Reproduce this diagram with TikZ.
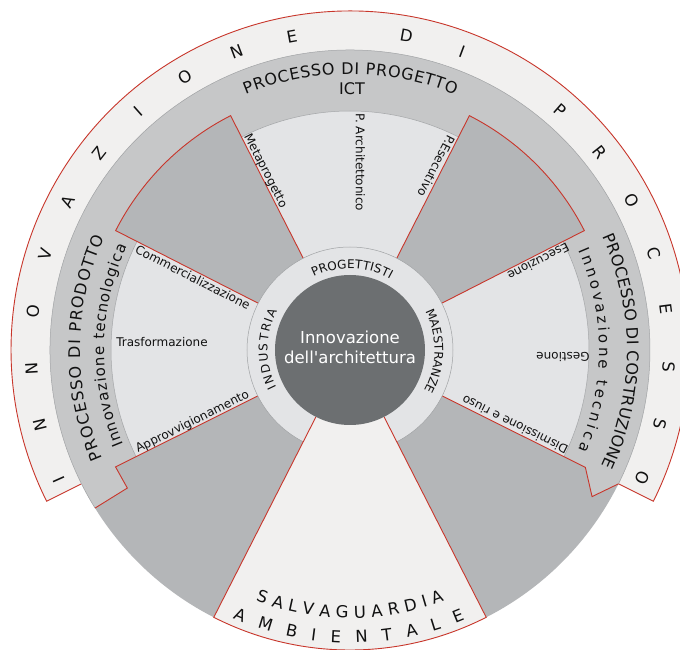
\documentclass[tikz,border=0pt]{standalone}
\usepackage{fontspec}
\setmainfont{DejaVu Sans}
\usetikzlibrary{decorations.text,calc}
\definecolor{ringcol}{HTML}{F1F0EF}
\definecolor{bandcol}{HTML}{C6C7C8}
\definecolor{darkcol}{HTML}{B4B6B8}
\definecolor{lightcol}{HTML}{E3E4E6}
\definecolor{centercol}{HTML}{6C6F71}
\definecolor{redcol}{HTML}{C8362B}
\definecolor{edgecol}{HTML}{A0A2A4}
\definecolor{txtcol}{HTML}{111111}
\newcommand\myBandFont{\fontsize{16}{19}\selectfont\color{txtcol}}
\newcommand\mySubFont{\fontsize{15}{18}\selectfont\color{txtcol}}
\newcommand\myInnerFont{\fontsize{12}{14}\selectfont\color{txtcol}}
\newcommand\myBottomFont{\fontsize{16.5}{19}\selectfont\color{txtcol}}
\begin{document}
\begin{tikzpicture}[x=1pt,y=1pt,
  redline/.style={draw=redcol, line width=0.9pt, line join=miter},
  thinedge/.style={draw=edgecol, line width=0.5pt},
  lbl/.style={font=\fontsize{12}{14}\selectfont, text=txtcol, inner sep=0pt, anchor=base},
  ringletter/.style={font=\fontsize{16.5}{18}\selectfont, text=txtcol, inner sep=0pt},
  arctext/.style={decorate, decoration={text along path, text align=fit to path, text={#1}}}
]
\clip (-350,-300) rectangle (330,350);
\fill[white] (-350,-300) rectangle (330,350);

% outer ring
\fill[ringcol] (-26.5:300pt) -- (-26.5:339pt) arc[start angle=-26.5, end angle=206.5, radius=339pt] -- (206.5:300pt) arc[start angle=206.5, end angle=-26.5, radius=300pt] -- cycle;
\draw[redline] (-26.5:300pt) -- (-26.5:339pt) arc[start angle=-26.5, end angle=206.5, radius=339pt] -- (206.5:300pt);

% band
\fill[bandcol] (211.8:300pt) arc[start angle=211.8, end angle=-26.5, radius=300pt] -- (-31.2:283pt) -- (-26.5:263pt) -- (-26.5:239pt) arc[start angle=-26.5, end angle=206.5, radius=239pt] -- (206.5:262pt) -- (211.8:262pt) -- cycle;
\draw[thinedge] (211.8:300pt) arc[start angle=211.8, end angle=-26.5, radius=300pt];

% light sectors
\fill[lightcol] (0,0) -- (63:239pt) arc[start angle=63, end angle=117, radius=239pt] -- cycle;
\fill[lightcol] (0,0) -- (153:239pt) arc[start angle=153, end angle=206.5, radius=239pt] -- cycle;
\fill[lightcol] (0,0) -- (-26.5:239pt) arc[start angle=-26.5, end angle=27, radius=239pt] -- cycle;
\draw[thinedge] (63:239pt) arc[start angle=63, end angle=117, radius=239pt];
\draw[thinedge] (153:239pt) arc[start angle=153, end angle=206.5, radius=239pt];
\draw[thinedge] (-26.5:239pt) arc[start angle=-26.5, end angle=27, radius=239pt];

% dark sectors
\filldraw[fill=darkcol, redline] (117:100pt) -- (117:263pt) arc[start angle=117, end angle=153, radius=263pt] -- (153:100pt);
\filldraw[fill=darkcol, redline] (27:100pt) -- (27:263pt) arc[start angle=27, end angle=63, radius=263pt] -- (63:100pt);
\fill[darkcol] (206.5:100pt) -- (206.5:262pt) -- (211.8:262pt) -- (211.8:300pt) arc[start angle=211.8, end angle=243, radius=300pt] -- (243:100pt) -- cycle;
\draw[redline] (206.5:100pt) -- (206.5:262pt) -- (211.8:262pt) -- (211.8:300pt);
\fill[darkcol] (297:100pt) -- (297:300pt) arc[start angle=297, end angle=333.5, radius=300pt] -- (328.8:283pt) -- (333.5:263pt) -- (333.5:100pt) -- cycle;
\draw[redline] (333.5:300pt) -- (328.8:283pt) -- (333.5:263pt) -- (333.5:100pt);

% inner ring
\filldraw[fill=lightcol, thinedge] (0,0) circle[radius=103pt];

% bottom sector
\fill[ringcol] (243:75pt) -- (243:300pt) arc[start angle=243, end angle=297, radius=300pt] -- (297:75pt) -- cycle;
\draw[redline] (243:75pt) -- (243:300pt) arc[start angle=243, end angle=297, radius=300pt] -- (297:75pt);

% centre
\fill[centercol] (0,0) circle[radius=75pt];
\node[font=\fontsize{16.5}{20}\selectfont, text=white, align=center, inner sep=0pt] (centre) at (0,3) {Innovazione\\dell\textquotesingle architettura};

% outer ring letters
\foreach \c/\k in {I/0,N/1,N/2,O/3,V/4,A/5,Z/6,I/7,O/8,N/9,E/10,D/12,I/13,P/15,R/16,O/17,C/18,E/19,S/20,S/21,O/22} {
  \pgfmathsetmacro\ang{204-10.35*\k}
  \node[ringletter, rotate=\ang-90] (ring\k) at (\ang:319pt) {\c};
}

% band titles
\path[arctext={|\myBandFont|PROCESSO DI PROGETTO}] (112.2:276pt) arc[start angle=112.2, end angle=67.65, radius=276pt];
\node[font=\fontsize{16}{19}\selectfont, text=txtcol, inner sep=0pt] (ict) at (2,261) {ICT};
\path[arctext={|\myBandFont|PROCESSO DI PRODOTTO}] (203.7:270pt) arc[start angle=203.7, end angle=155.4, radius=270pt];
\path[arctext={|\mySubFont|Innovazione tecnologica}] (202.7:246pt) arc[start angle=202.7, end angle=155.1, radius=246pt];
\path[arctext={|\myBandFont|PROCESSO DI COSTRUZIONE}] (24.1:277pt) arc[start angle=24.1, end angle=-24.7, radius=277pt];
\path[arctext={|\mySubFont|Innovazione tecnica}] (23.5:249pt) arc[start angle=23.5, end angle=-23.6, radius=249pt];

% inner ring words
\path[arctext={|\myInnerFont|PROGETTISTI}] (116.5:81.5pt) arc[start angle=116.5, end angle=60.5, radius=81.5pt];
\path[arctext={|\myInnerFont|INDUSTRIA}] (207:82.5pt) arc[start angle=207, end angle=151.7, radius=82.5pt];
\path[arctext={|\myInnerFont|MAESTRANZE}] (27.1:84.5pt) arc[start angle=27.1, end angle=-27.3, radius=84.5pt];

% bottom words
\path[arctext={|\myBottomFont|SALVAGUARDIA}] (249.4:268pt) arc[start angle=249.4, end angle=290.6, radius=268pt];
\path[arctext={|\myBottomFont|AMBIENTALE}] (246.4:293pt) arc[start angle=246.4, end angle=293.1, radius=293pt];

% radial labels
\node[lbl, rotate=297] (meta) at ($(117:198pt)+(27:2.5pt)$) {Metaprogetto};
\node[lbl, rotate=270] (parch) at (6,187.5) {P. Architettonico};
\node[lbl, rotate=243] (pese) at ($(63:203pt)+(153:11pt)$) {P.Esecutivo};
\node[lbl, rotate=333] (comm) at ($(153:173pt)+(243:11pt)$) {Commercializzazione};
\node[lbl] (trasf) at (-188,3.5) {Trasformazione};
\node[lbl, rotate=26.5] (appr) at ($(206.5:173pt)+(116.5:2.5pt)$) {Approvvigionamento};
\node[lbl, rotate=207] (esec) at ($(27:208pt)+(-63:2.5pt)$) {Esecuzione};
\node[lbl, rotate=180] (gest) at (213,-3) {Gestione};
\node[lbl, rotate=153.5] (dism) at ($(333.5:181pt)+(63.5:11pt)$) {Dismissione e riuso};
\end{tikzpicture}
\end{document}
